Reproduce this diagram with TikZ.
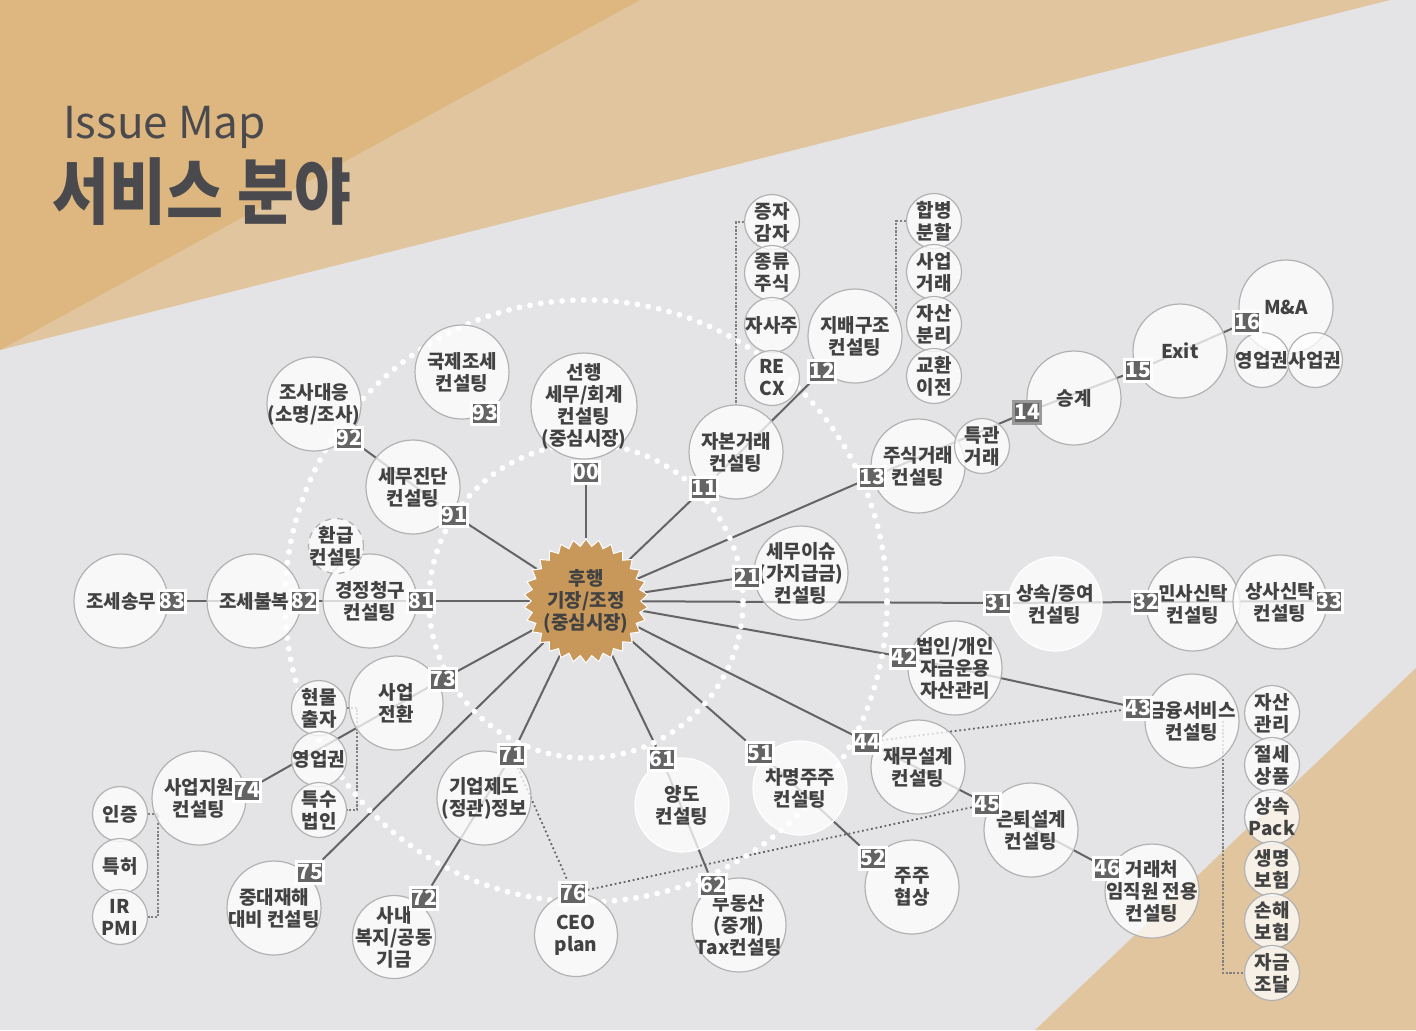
\documentclass[tikz,border=0pt]{standalone}
\usepackage{fontspec}
\setmainfont{Noto Sans CJK KR}
\usetikzlibrary{shapes.geometric}
\pgfdeclarelayer{back}
\pgfdeclarelayer{wires}
\pgfsetlayers{back,wires,main}

\definecolor{sand}{HTML}{DDB77F}
\definecolor{lightsand}{HTML}{E1C59E}
\definecolor{paper}{HTML}{E4E4E6}
\definecolor{ink}{HTML}{424242}
\definecolor{titleink}{HTML}{4A4A4E}
\definecolor{tagfill}{HTML}{646464}
\definecolor{rim}{HTML}{B2B2B2}
\definecolor{starfill}{HTML}{C8985A}

\newcommand\lblfont{\bfseries\fontsize{9.5}{11}\selectfont}
\newcommand\tagfont{\bfseries\fontsize{10.5}{10.5}\selectfont}

\tikzset{
  ring/.style={circle, fill=white, fill opacity=0.75, text opacity=1, draw=rim, line width=0.6pt,
    minimum size=47pt, inner sep=-10pt, align=center, text=ink, font=\lblfont},
  softring/.style={ring, draw=white},
  bud/.style={ring, minimum size=27.5pt},
  tag/.style={rectangle, fill=tagfill, draw=white, line width=1.5pt, minimum width=11pt,
    minimum height=11pt, inner sep=0.2pt, text=white, font=\tagfont},
  core/.style={star, star points=30, star point ratio=1.13, minimum size=62pt, inner sep=0pt,
    fill=starfill, draw=white, line width=0.5pt},
  link/.style={draw=tagfill, line width=1pt},
  hint/.style={draw=tagfill, line width=0.9pt, dash pattern=on 0.9pt off 1.4pt},
  brace/.style={draw=gray, line width=1.1pt, dash pattern=on 1.1pt off 0.8pt},
  halo/.style={draw=white, line width=2.9pt, line cap=round, dash pattern=on 0pt off 5.4pt}
}

\begin{document}
\begin{tikzpicture}[x=0.5pt, y=-0.5pt]

\useasboundingbox (0,0) rectangle (1416,1030);

\begin{pgfonlayer}{back}
\fill[paper] (0,0) rectangle (1416,1030);
\fill[lightsand] (0,0) -- (1390,0) -- (0,350) -- cycle;
\fill[sand] (0,0) -- (640,0) -- (0,350) -- cycle;
\fill[lightsand] (1416,668) -- (1416,1030) -- (1035,1030) -- cycle;
\end{pgfonlayer}

\node[anchor=base west, text=titleink, font=\fontsize{22}{26}\selectfont] (mapname) at (56,138) {Issue Map};
\node[anchor=base west, text=titleink, font=\bfseries\fontsize{36}{40}\selectfont, xscale=0.86, transform shape] (maptitle) at (46,218) {서비스 분야};

\node[core] (core) at (586,601) {};
\node[align=center, text=ink, font=\lblfont] (coretext) at (core.center) {후행\\기장/조정\\(중심시장)};

\node[ring, minimum size=53pt] (c00) at (584,406) {선행\\세무/회계\\컨설팅\\(중심시장)};
\node[ring] (c93) at (462,372) {국제조세\\컨설팅};
\node[ring] (c92) at (314,404) {조사대응\\(소명/조사)};
\node[ring] (c91) at (413,487) {세무진단\\컨설팅};
\node[ring] (c81) at (370,601) {경정청구\\컨설팅};
\node[bud, dashed] (refund) at (336,546) {환급\\컨설팅};
\node[ring] (c82) at (254,601) {조세불복};
\node[ring] (c83) at (121,601) {조세송무};

\node[ring] (c73) at (396,703) {사업\\전환};
\node[bud] (hm) at (319,708) {현물\\출자};
\node[bud] (gw) at (319,759) {영업권};
\node[bud] (sp) at (319,810) {특수\\법인};
\node[ring] (c74) at (199,798) {사업지원\\컨설팅};
\node[bud] (cert) at (120,814) {인증};
\node[bud] (pat) at (120,866) {특허};
\node[bud] (irpmi) at (120,917) {IR\\PMI};
\node[ring] (c75) at (274,908) {중대재해\\대비 컨설팅};
\node[ring, minimum size=41.5pt] (c72) at (394,937) {사내\\복지/공동\\기금};
\node[ring] (c71) at (484,798) {기업제도\\(정관)정보};
\node[ring, minimum size=41.5pt] (c76) at (576,935) {CEO\\plan};

\node[softring] (c61) at (682,805) {양도\\컨설팅};
\node[ring] (c62) at (739,925) {부동산\\(중개)\\Tax컨설팅};
\node[softring] (c51) at (800,788) {차명주주\\컨설팅};
\node[ring] (c52) at (912,887) {주주\\협상};
\node[ring] (c44) at (918,767) {재무설계\\컨설팅};
\node[ring] (c45) at (1031,830) {은퇴설계\\컨설팅};
\node[ring] (c46) at (1152,891) {거래처\\임직원 전용\\컨설팅};
\node[ring] (c42) at (955,668) {법인/개인\\자금운용\\자산관리};
\node[ring] (c43) at (1192,721) {금융서비스\\컨설팅};
\node[bud] (am) at (1272,713) {자산\\관리};
\node[bud] (sv) at (1272,765) {절세\\상품};
\node[bud] (ip) at (1272,817) {상속\\Pack};
\node[bud] (li) at (1272,869) {생명\\보험};
\node[bud] (di) at (1272,921) {손해\\보험};
\node[bud] (fund) at (1272,973) {자금\\조달};

\node[softring] (c31) at (1055,604) {상속/증여\\컨설팅};
\node[ring] (c21) at (801,573) {세무이슈\\(가지급금)\\컨설팅};
\node[ring] (c32) at (1193,604) {민사신탁\\컨설팅};
\node[ring] (c33) at (1280,602) {상사신탁\\컨설팅};

\node[ring] (c13) at (918,466) {주식거래\\컨설팅};
\node[bud] (rel) at (982,446) {특관\\거래};
\node[ring] (c14) at (1074,398) {승계};
\node[ring] (c15) at (1180,351) {Exit};
\node[ring] (c16) at (1286,307) {M\&A};
\node[bud] (bz) at (1262,360) {영업권};
\node[bud] (br) at (1315,360) {사업권};

\node[ring] (c11) at (736,452) {자본거래\\컨설팅};
\node[ring] (c12) at (855,336) {지배구조\\컨설팅};
\node[bud] (zj) at (772,222) {증자\\감자};
\node[bud] (js) at (772,273) {종류\\주식};
\node[bud] (tsh) at (772,325) {자사주};
\node[bud] (recx) at (772,378) {RE\\CX};
\node[bud] (hb) at (934,221) {합병\\분할};
\node[bud] (bt) at (934,272) {사업\\거래};
\node[bud] (ad) at (934,324) {자산\\분리};
\node[bud] (ex) at (934,376) {교환\\이전};

\node[tag] (b00) at (586,472) {00};
\node[tag] (b93) at (485,413) {93};
\node[tag] (b92) at (349,438) {92};
\node[tag] (b91) at (454,515) {91};
\node[tag] (b81) at (421,601) {81};
\node[tag] (b82) at (304,601) {82};
\node[tag] (b83) at (172,601) {83};
\node[tag] (b73) at (443,679) {73};
\node[tag] (b74) at (247,790) {74};
\node[tag] (b75) at (310,872) {75};
\node[tag] (b72) at (424,898) {72};
\node[tag] (b71) at (512,755) {71};
\node[tag] (b76) at (573,893) {76};
\node[tag] (b61) at (662,759) {61};
\node[tag] (b62) at (713,885) {62};
\node[tag] (b51) at (760,753) {51};
\node[tag] (b52) at (873,858) {52};
\node[tag] (b44) at (867,742) {44};
\node[tag] (b45) at (987,804) {45};
\node[tag] (b46) at (1107,868) {46};
\node[tag] (b42) at (904,657) {42};
\node[tag] (b43) at (1138,708) {43};
\node[tag] (b31) at (998,603) {31};
\node[tag] (b32) at (1146,602) {32};
\node[tag] (b33) at (1329,601) {33};
\node[tag] (b21) at (747,577) {21};
\node[tag] (b13) at (872,477) {13};
\node[tag, draw=gray!80] (b14) at (1027,412) {14};
\node[tag] (b15) at (1138,370) {15};
\node[tag] (b16) at (1247,322) {16};
\node[tag] (b11) at (704,488) {11};
\node[tag] (b12) at (822,371) {12};

\begin{pgfonlayer}{wires}
\draw[link] (core) -- (b00);
\draw[link] (core) -- (b91) -- (b92);
\draw[link] (core) -- (b81) -- (b82) -- (b83);
\draw[link] (core) -- (b73) -- (b74);
\draw[link] (core) -- (b75);
\draw[link] (core) -- (b71) -- (b72);
\draw[link] (core) -- (b61) -- (b62);
\draw[link] (core) -- (b51) -- (b52);
\draw[link] (core) -- (b44) -- (b45) -- (b46);
\draw[link] (core) -- (b42) -- (b43);
\draw[link] (core) -- (b31) -- (b32) -- (b33);
\draw[link] (core) -- (b21);
\draw[link] (core) -- (b13) -- (b14) -- (b15) -- (b16);
\draw[link] (core) -- (b11) -- (b12);

\draw[hint] (b71) -- (b76);
\draw[hint] (b76) -- (b45);
\draw[hint] (b44) -- (b43);

\draw[brace] (hm.east) -- ++(10,0) |- (sp.east);
\draw[brace] (cert.east) -- ++(10,0) |- (irpmi.east);
\draw[brace] (zj.west) -| (c11.north);
\draw[brace] (hb.west) -| (c12.30);
\draw[brace] ([xshift=15.5pt]c43.center) |- (fund.west);

\draw[halo] (core.center) circle[radius=78.5pt];
\draw[halo] (core.center) circle[radius=150.5pt];
\end{pgfonlayer}

\end{tikzpicture}
\end{document}
